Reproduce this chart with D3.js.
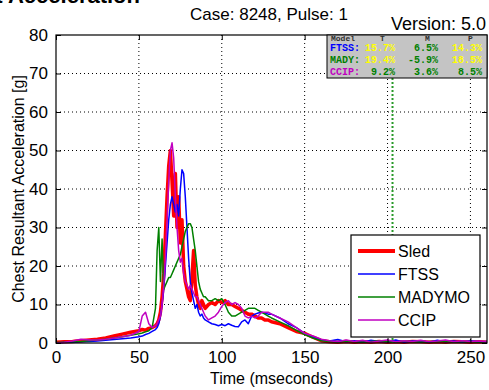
<!DOCTYPE html>
<html>
<head>
<meta charset="utf-8">
<script src="https://cdn.jsdelivr.net/npm/d3@7"></script>
<style>
  body { margin: 0; background: #fff; }
  svg { display: block; font-family: "Liberation Sans", Arial, sans-serif; }
</style>
</head>
<body>
<div id="chart"></div>
<script>
// time axis (ms), shared by all series
var time = [0,5,10,15,20,25,30,35,40,45,50,52,54,56,58,60,
  61,62,63,64,65,66,67,68,69,70,71,72,73,74,75,76,77,78,79,80,81,82,83,84,85,86,87,88,89,90,
  92,94,96,98,100,102,104,106,108,110,112,114,116,118,120,122,124,126,128,130,
  135,140,145,150,155,160,165,170,175,180,185,190,195,200,205,210,215,220,225,230,235,240,245,250,255,260];

var sled = [0.2,0.3,0.4,0.6,0.8,1.0,1.3,1.8,2.3,2.8,3.2,3.5,3.3,3.8,4.0,4.5,
  5,6,8,12,18,28,38,46,50,42,33,44,30,38,26,32,20,16,14,12,11,17,24,15,12,10,9,11,10,9,
  10,10.5,10,11,10.5,11,10,10,9.5,9,8.5,8,7.5,7.5,7,6.5,6.5,6,6,5.5,
  5,4,3,2.5,1.5,0.6,0.3,0.2,0.4,0.2,0.3,0.2,0.4,0.2,0.3,0.2,0.4,0.3,0.2,0.3,0.2,0.4,0.3,0.2,0.3,0.2];

var ftss = [0,0.1,0.2,0.3,0.4,0.5,0.7,0.9,1.1,1.3,1.6,1.8,2.2,2.5,3,3.5,
  4,5,7,10,14,20,26,32,36,38,36,34,36,33,40,45,44,38,30,22,16,13,11,9,10,8,7,7.5,6.5,6,
  5.5,5,4.8,4.5,4.8,4.5,5,4.6,4.3,4.2,5.5,6,5,7,7.5,7.8,8,7.8,7.5,7.5,
  6.5,5,4,2.5,1.5,0.8,0.5,0.9,0.3,0.6,0.2,0.7,0.4,0.3,0.8,0.2,0.5,0.6,0.2,0.7,0.3,0.5,0.2,0.6,0.3,0.4];

var madymo = [0.1,0.2,0.3,0.4,0.6,0.8,1.0,1.3,1.6,2.0,2.4,2.6,2.9,3.2,4,9,
  24,30,16,27,14,15,16,17,17,18,19,20,21,22,23,25,27,29,30,31,31,30,27,24,20,16,14,13,12,12,
  11,11,11.5,11,11.5,10,8,7,7,7.5,8,8.5,9,9,9,8.5,8,7.5,7,6.5,
  5.5,4.5,3.3,2.2,1.3,0.6,0.4,0.2,0.5,0.3,0.2,0.4,0.6,0.3,0.2,0.5,0.3,0.2,0.4,0.3,0.5,0.2,0.3,0.4,0.2,0.3];

var ccip = [0,0.2,0.5,1,0.8,0.8,1,1.3,1.6,2,3,7,8,5,4,4.5,
  5,6,7,10,15,22,32,42,50,52,48,38,30,24,21,22,18,16,15,14,15,14,13,12,12,11,10,9,8,7,
  6,6.5,7,8,9.5,10.5,11,10,10.5,10,9,7,6.5,7,6.5,7,8,8,8,7.5,
  6.5,5.5,4,2.5,1.8,1,0.6,0.3,0.8,0.4,0.7,0.2,0.5,0.8,0.3,0.6,0.4,0.7,0.3,0.5,0.8,0.3,0.6,0.4,0.5,0.3];

var seriesNames = ["Sled", "FTSS", "MADYMO", "CCIP"];
var seriesColors = ["#ff0000", "#0000ff", "#008000", "#c000c0"];
var seriesWidths = [3.5, 1.5, 1.5, 1.5];
var seriesValues = [sled, ftss, madymo, ccip];

var xTicks = [0, 50, 100, 150, 200, 250];
var yTicks = [0, 10, 20, 30, 40, 50, 60, 70, 80];

// error table
var tableHead = ["Model", "T", "M", "P"];
var tableRows = ["FTSS:", "MADY:", "CCIP:"];
var tableT = ["15.7%", "19.4%", "9.2%"];
var tableM = ["6.5%", "-5.9%", "3.6%"];
var tableP = ["14.3%", "18.5%", "8.5%"];
var tableTColors = ["#ffff00", "#ffff00", "#008000"];
var tableMColors = ["#008000", "#008000", "#008000"];
var tablePColors = ["#ffff00", "#ffff00", "#008000"];
var markerTime = 203;

var width = 489, height = 390;
var margin = {top: 35, right: 2, bottom: 47, left: 56};
var w = width - margin.left - margin.right;
var h = height - margin.top - margin.bottom;

var svg = d3.select("#chart").append("svg")
    .attr("width", width)
    .attr("height", height);

// cut off heading at the very top
svg.append("text")
    .attr("x", 140).attr("y", 3)
    .attr("text-anchor", "end")
    .style("font-size", "22px").style("font-weight", "bold")
    .text("Resultant Acceleration");

svg.append("text")
    .attr("x", 269).attr("y", 20)
    .attr("text-anchor", "middle")
    .style("font-size", "17px")
    .text("Case: 8248, Pulse: 1");

svg.append("text")
    .attr("x", 486).attr("y", 30)
    .attr("text-anchor", "end")
    .style("font-size", "18px")
    .text("Version: 5.0");

var g = svg.append("g").attr("transform", "translate(" + margin.left + "," + margin.top + ")");

var x = d3.scaleLinear().domain([0, 260]).range([0, w]);
var y = d3.scaleLinear().domain([0, 80]).range([h, 0]);

g.append("rect").attr("width", w).attr("height", h).attr("fill", "#fff");

// grid
g.append("g").selectAll("line")
    .data(xTicks.filter(function(d) { return d > 0; }))
    .enter().append("line")
    .attr("x1", function(d) { return x(d); }).attr("x2", function(d) { return x(d); })
    .attr("y1", 0).attr("y2", h)
    .attr("stroke", "#000").attr("stroke-width", 1).attr("stroke-dasharray", "1,3");
g.append("g").selectAll("line")
    .data(yTicks.filter(function(d) { return d > 0 && d < 80; }))
    .enter().append("line")
    .attr("y1", function(d) { return y(d); }).attr("y2", function(d) { return y(d); })
    .attr("x1", 0).attr("x2", w)
    .attr("stroke", "#000").attr("stroke-width", 1).attr("stroke-dasharray", "1,3");

// series
var line = d3.line()
    .x(function(d) { return x(d[0]); })
    .y(function(d) { return y(d[1]); });

seriesValues.forEach(function(vals, i) {
  g.append("path")
      .datum(time.map(function(t, j) { return [t, vals[j]]; }))
      .attr("fill", "none")
      .attr("stroke", seriesColors[i])
      .attr("stroke-width", seriesWidths[i])
      .attr("stroke-linejoin", "round")
      .attr("d", line);
});

// vertical marker
g.append("line")
    .attr("x1", x(markerTime)).attr("x2", x(markerTime))
    .attr("y1", 43).attr("y2", h)
    .attr("stroke", "#2a9a2a").attr("stroke-width", 2).attr("stroke-dasharray", "2,2");

// axes (ticks inward)
g.append("g").attr("transform", "translate(0," + h + ")")
    .call(d3.axisBottom(x).tickValues(xTicks).tickSizeInner(-5).tickSizeOuter(0).tickPadding(8))
    .call(function(a) { a.selectAll("text").style("font-size", "17px").attr("fill", "#000"); });
g.append("g")
    .call(d3.axisTop(x).tickValues(xTicks).tickSizeInner(-5).tickSizeOuter(0).tickFormat(""));
g.append("g")
    .call(d3.axisLeft(y).tickValues(yTicks).tickSizeInner(-5).tickSizeOuter(0).tickPadding(8))
    .call(function(a) { a.selectAll("text").style("font-size", "17px").attr("fill", "#000"); });
g.append("g").attr("transform", "translate(" + w + ",0)")
    .call(d3.axisRight(y).tickValues(yTicks).tickSizeInner(-5).tickSizeOuter(0).tickFormat(""));
g.selectAll(".domain").remove();
g.append("rect").attr("width", w).attr("height", h)
    .attr("fill", "none").attr("stroke", "#000").attr("stroke-width", 1.2);

// axis labels
svg.append("text")
    .attr("x", margin.left + w / 2).attr("y", 384)
    .attr("text-anchor", "middle")
    .style("font-size", "16px")
    .text("Time (mseconds)");
svg.append("text")
    .attr("transform", "translate(24," + (margin.top + h / 2) + ") rotate(-90)")
    .attr("text-anchor", "middle")
    .style("font-size", "16px")
    .text("Chest Resultant Acceleration [g]");

// error table
var tb = svg.append("g").attr("transform", "translate(327,35)");
tb.append("rect").attr("width", 160).attr("height", 43)
    .attr("fill", "#c4c4c4").attr("stroke", "#000").attr("stroke-width", 1);
var mono = function(s) {
  s.style("font-family", "'Liberation Mono', 'DejaVu Sans Mono', monospace")
   .style("font-size", "10px").style("font-weight", "bold");
};
var headX = [4, 53, 98, 141];
tb.selectAll("text.head").data(tableHead).enter().append("text")
    .attr("class", "head")
    .attr("x", function(d, i) { return headX[i]; }).attr("y", 6)
    .attr("fill", "#303030").call(mono).style("font-size", "8px")
    .text(function(d) { return d; });
tb.selectAll("text.row").data(tableRows).enter().append("text")
    .attr("class", "row")
    .attr("x", 3).attr("y", function(d, i) { return 15.5 + i * 12.2; })
    .attr("fill", function(d, i) { return seriesColors[i + 1]; })
    .call(mono)
    .text(function(d) { return d; });
[[tableT, tableTColors, 68], [tableM, tableMColors, 111], [tableP, tablePColors, 155]].forEach(function(col) {
  tb.selectAll(null).data(col[0]).enter().append("text")
      .attr("x", col[2]).attr("y", function(d, i) { return 15.5 + i * 12.2; })
      .attr("text-anchor", "end")
      .attr("fill", function(d, i) { return col[1][i]; })
      .call(mono)
      .text(function(d) { return d; });
});

// legend
var lg = svg.append("g").attr("transform", "translate(351,235)");
lg.append("rect").attr("width", 129).attr("height", 102)
    .attr("fill", "#fff").attr("stroke", "#000").attr("stroke-width", 1.2);
seriesNames.forEach(function(name, i) {
  var yy = 16 + i * 23;
  lg.append("line").attr("x1", 7).attr("x2", 44).attr("y1", yy).attr("y2", yy)
      .attr("stroke", seriesColors[i]).attr("stroke-width", i === 0 ? 4 : 1.5);
  lg.append("text").attr("x", 47).attr("y", yy + 6)
      .style("font-size", "16px").text(name);
});
</script>
</body>
</html>
